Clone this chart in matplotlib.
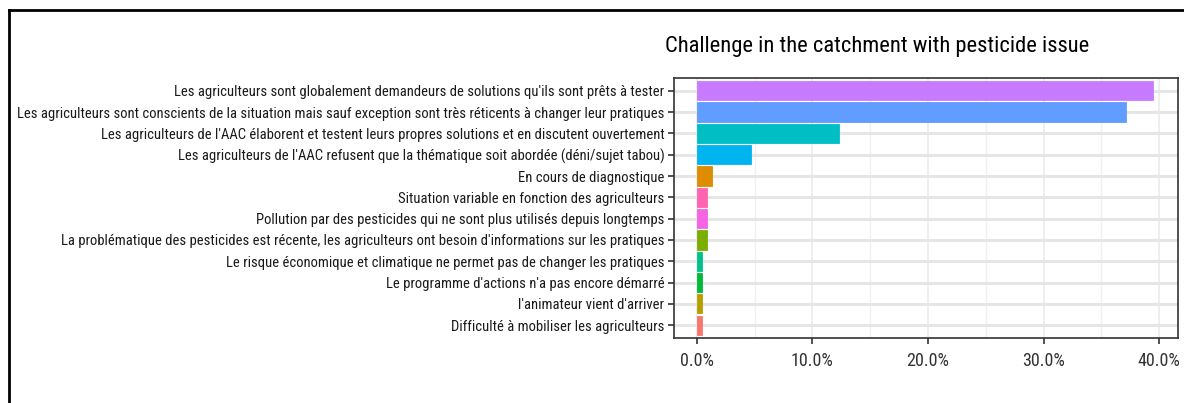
import matplotlib
matplotlib.use("Agg")
import matplotlib.pyplot as plt
from matplotlib.lines import Line2D
from matplotlib.ticker import FuncFormatter, MultipleLocator

plt.rcParams['font.family'] = ['Roboto Condensed', 'DejaVu Sans']

# categories, bottom to top
labels = [
    "Difficulté à mobiliser les agriculteurs",
    "l'animateur vient d'arriver",
    "Le programme d'actions n'a pas encore démarré",
    "Le risque économique et climatique ne permet pas de changer les pratiques",
    "La problématique des pesticides est récente, les agriculteurs ont besoin d'informations sur les pratiques",
    "Pollution par des pesticides qui ne sont plus utilisés depuis longtemps",
    "Situation variable en fonction des agriculteurs",
    "En cours de diagnostique",
    "Les agriculteurs de l'AAC refusent que la thématique soit abordée (déni/sujet tabou)",
    "Les agriculteurs de l'AAC élaborent et testent leurs propres solutions et en discutent ouvertement",
    "Les agriculteurs sont conscients de la situation mais sauf exception sont très réticents à changer leur pratiques",
    "Les agriculteurs sont globalement demandeurs de solutions qu'ils sont prêts à tester",
]
values = [0.43, 0.43, 0.43, 0.43, 0.86, 0.86, 0.86, 1.3, 4.7, 12.3, 37.1, 39.5]
colors = ["#F8766D", "#B79F00", "#00BA38", "#00C08B", "#7CAE00", "#F564E3",
          "#FF64B0", "#DE8C00", "#00B4F0", "#00BFC4", "#619CFF", "#C77CFF"]
xticks = [0, 10, 20, 30, 40]

fig = plt.figure(figsize=(11.84, 4.03), dpi=100)
ax = fig.add_axes([0.5693, 0.1613, 0.4254, 0.6452])

ypos = list(range(len(labels)))
ax.barh(ypos, values, height=0.9, color=colors, edgecolor=colors, linewidth=0.6, zorder=3)

ax.set_xlim(-1.97, 41.6)
ax.set_ylim(-0.6, len(labels) - 0.4)
ax.set_yticks(ypos)
ax.set_yticklabels(labels, fontsize=10.5, color="#1a1a1a")
ax.set_xticks(xticks)
ax.xaxis.set_minor_locator(MultipleLocator(5))
ax.xaxis.set_major_formatter(FuncFormatter(lambda v, p: "%.1f%%" % v))
ax.tick_params(axis="x", labelsize=13, labelcolor="#333333", length=4, width=1.2,
               color="#333333", pad=6)
ax.tick_params(axis="x", which="minor", length=0)
ax.tick_params(axis="y", length=4, width=1.2, color="#333333", pad=3)

ax.grid(axis="y", color="#E6E6E6", linewidth=2.2, zorder=0)
ax.grid(axis="x", which="major", color="#EBEBEB", linewidth=1.2, zorder=0)
ax.grid(axis="x", which="minor", color="#F0F0F0", linewidth=1.0, zorder=0)
ax.set_axisbelow(True)
for s in ax.spines.values():
    s.set_color("#333333")
    s.set_linewidth(1.2)

fig.text(0.5617, 0.885, "Challenge in the catchment with pesticide issue",
         fontsize=16.2, ha="left", va="center", color="black")

# outer frame (cropped: only top and left edges visible)
fig.add_artist(Line2D([9 / 1184, 1.0], [1 - 10 / 403, 1 - 10 / 403],
                      transform=fig.transFigure, color="black", linewidth=2))
fig.add_artist(Line2D([9 / 1184, 9 / 1184], [0.0, 1 - 10 / 403],
                      transform=fig.transFigure, color="black", linewidth=2))

fig.savefig("out.png", dpi=100)
